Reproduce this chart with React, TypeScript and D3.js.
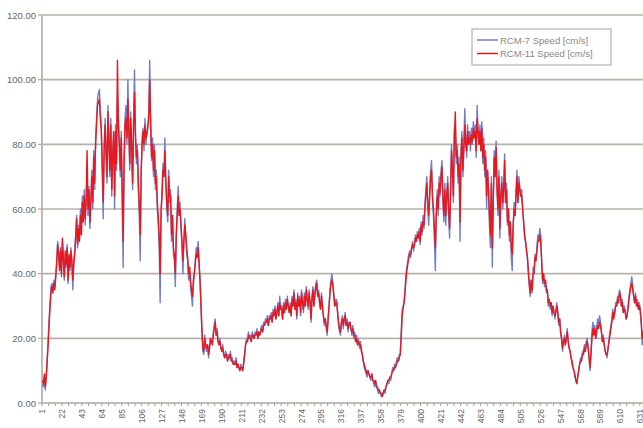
import React, { useEffect, useRef } from "react";
import * as d3 from "d3";

const rcm7: number[] = [
  6,5,8,4,9,14,20,26,31,36,37,35,38,36,40,44,50,47,42,48,
  39,50,44,38,46,42,49,37,45,41,48,43,35,44,47,52,58,48,55,51,
  60,53,64,57,66,55,62,70,58,67,54,63,72,60,78,66,82,88,94,96,
  97,90,85,72,57,80,88,76,68,92,81,70,88,64,78,83,60,86,72,95,
  88,79,70,84,62,42,76,88,92,80,100,86,72,90,78,66,88,103,84,74,
  80,66,58,44,70,82,85,78,88,80,84,86,90,106,88,75,82,70,80,66,
  72,60,55,48,31,58,66,74,70,82,68,60,56,72,62,66,50,58,46,44,
  36,52,60,67,58,62,54,48,40,50,57,52,46,44,38,42,36,33,30,36,
  40,44,48,46,50,44,38,30,22,16,15,21,17,16,18,14,17,20,19,18,
  22,24,26,21,23,19,18,20,17,16,18,15,14,16,15,13,15,14,16,13,
  14,12,13,12,14,11,12,11,10,12,11,10,13,15,18,20,19,22,20,21,
  19,22,21,20,22,21,23,20,22,21,23,24,22,25,24,26,25,27,24,27,
  26,28,25,29,27,30,26,28,31,27,33,29,30,26,31,28,32,29,33,30,
  28,31,27,33,30,35,29,32,26,34,30,33,27,35,31,28,34,30,36,32,
  29,35,31,25,33,36,30,34,37,38,33,35,31,29,34,30,27,24,26,23,
  21,26,30,35,38,40,37,34,30,32,32,28,24,22,21,25,27,23,26,28,
  24,26,22,25,25,23,21,24,20,22,19,21,18,20,17,19,17,15,13,11,
  10,9,8,10,9,8,7,9,7,6,5,7,5,4,3,4,3,2,2,3,
  4,3,5,6,7,6,8,7,9,11,10,12,11,13,14,13,15,15,22,29,
  30,31,35,40,42,44,46,47,45,48,50,47,49,52,50,53,51,54,49,56,
  52,58,54,62,66,70,60,55,65,72,75,62,58,50,41,60,66,58,70,64,
  72,75,62,56,68,55,64,70,58,51,66,80,72,62,85,86,74,80,68,76,
  50,78,84,70,80,91,82,76,86,80,84,78,85,80,87,82,86,76,92,84,
  80,86,78,87,74,82,70,78,60,72,66,55,48,70,42,62,78,70,81,66,
  58,72,51,64,70,60,66,77,62,68,55,60,50,56,45,41,55,62,58,66,
  72,62,70,67,64,66,60,56,52,50,48,45,40,36,33,38,34,42,40,46,
  44,48,52,50,54,52,44,37,40,36,38,34,35,30,32,29,31,27,30,28,
  26,29,31,28,24,26,22,20,16,19,21,18,20,23,19,17,16,14,12,11,
  10,8,7,6,8,10,12,14,13,16,15,18,16,19,20,17,14,10,16,22,
  25,22,24,20,23,26,24,27,25,22,19,21,18,16,15,14,17,20,22,24,
  26,29,27,28,31,30,33,32,35,34,30,32,28,30,29,26,27,30,33,35,
  37,39,36,33,31,34,30,32,29,31,29,24,18,22,20,24,21,25,22,20,
];

const rcm11: number[] = [
  7,6,9,5,8,13,18,24,30,34,36,34,37,35,39,43,49,46,41,47,
  40,51,45,39,47,43,48,38,46,42,47,44,38,43,46,51,57,49,54,50,
  58,52,62,56,64,57,63,78,60,66,56,62,70,62,76,68,80,86,92,93,
  94,88,84,74,62,78,86,78,70,90,80,72,86,66,76,84,64,84,74,106,
  86,80,72,82,66,50,74,86,88,82,94,84,74,88,80,68,86,96,82,76,
  78,68,62,52,72,80,84,80,86,82,83,85,88,100,86,76,80,72,78,68,
  70,62,58,52,40,60,64,72,70,78,68,62,58,70,64,64,52,58,48,46,
  40,52,58,64,58,60,55,50,44,50,55,52,48,45,40,42,38,35,33,38,
  40,43,46,45,48,43,38,31,23,17,16,20,18,17,18,15,17,20,19,18,
  21,23,25,21,22,19,18,19,17,16,17,15,14,15,15,13,14,14,15,13,
  13,12,12,12,13,11,12,11,10,11,11,10,12,15,18,19,19,21,20,20,
  19,21,21,20,21,21,22,20,22,21,22,23,22,24,24,25,25,26,24,26,
  26,27,25,28,27,29,26,28,30,27,31,29,29,26,30,28,31,29,32,30,
  28,30,27,32,30,34,29,31,27,33,30,32,28,34,31,29,33,30,35,32,
  30,34,31,26,32,35,30,33,36,37,33,34,31,29,33,30,27,25,26,24,
  22,26,30,34,37,38,36,33,30,31,31,28,25,23,22,25,26,24,26,27,
  24,25,23,24,25,23,22,23,21,21,19,20,18,19,18,18,16,15,13,12,
  11,10,9,10,9,8,8,9,7,7,6,7,5,5,4,4,3,3,2,3,
  4,4,5,6,7,7,8,8,9,10,10,11,11,12,13,13,14,15,20,27,
  29,31,34,38,41,43,45,46,46,48,49,48,49,51,50,52,51,53,50,55,
  53,56,55,60,64,68,62,58,64,70,72,64,60,54,48,58,64,60,68,65,
  70,73,64,58,66,58,64,68,60,54,64,78,72,64,82,90,76,78,70,74,
  56,76,82,72,78,86,80,78,84,80,82,80,83,81,85,82,84,78,88,84,
  80,84,78,85,76,80,72,76,64,72,66,58,52,68,48,62,76,70,79,66,
  60,70,54,64,68,62,66,75,62,66,56,60,52,56,48,46,55,60,58,64,
  70,62,68,66,64,64,60,56,52,50,47,45,41,37,34,38,35,40,40,45,
  44,47,50,50,52,50,44,38,40,37,38,35,35,31,32,30,31,28,30,28,
  27,28,30,28,25,26,22,20,17,19,20,18,20,22,19,17,16,14,13,11,
  10,9,7,6,8,10,12,13,13,15,15,17,16,18,19,17,14,11,15,20,
  23,21,23,20,22,24,23,25,24,22,19,20,18,16,15,15,17,19,21,23,
  25,28,26,28,30,30,32,31,34,33,30,31,28,29,28,26,27,29,32,34,
  36,37,35,33,31,33,30,31,29,30,28,25,20,22,21,23,22,24,22,21,
];

const yTicks: number[] = [0, 20, 40, 60, 80, 100, 120];
const xTickLabels: string[] = [
  "1","22","43","64","85","106","127","148","169","190","211","232","253","274","295","316",
  "337","358","379","400","421","442","463","484","505","526","547","568","589","610","631",
];
const seriesNames: string[] = ["RCM-7 Speed [cm/s]", "RCM-11 Speed [cm/s]"];
const seriesColors: string[] = ["#6f7fcc", "#e8191e"];

export default function App() {
  const ref = useRef<SVGSVGElement>(null);
  useEffect(() => {
    const svg = d3.select(ref.current);
    svg.selectAll("*").remove();
    const W = 643, H = 428;
    const left = 42, top = 15, bottom = 403;
    const n = rcm7.length;
    const step = 0.949;
    const right = left + (n + 20) * step;
    const y = d3.scaleLinear().domain([0, 120]).range([bottom, top]);
    const x = d3.scaleLinear().domain([0, n + 20]).range([left, right]);
    const font = "Liberation Sans, Arial, sans-serif";

    svg.append("rect").attr("width", W).attr("height", H).attr("fill", "#fff");
    svg.append("defs").append("clipPath").attr("id", "clip")
      .append("rect").attr("x", left).attr("y", 0).attr("width", W - left).attr("height", bottom + 1);

    // gridlines
    svg.append("g").selectAll("line").data(yTicks.filter((t) => t > 0)).join("line")
      .attr("x1", left).attr("x2", W).attr("y1", (d) => y(d)).attr("y2", (d) => y(d))
      .attr("stroke", "#bab2aa").attr("stroke-width", 1.6);

    // y axis
    svg.append("line").attr("x1", left).attr("x2", left).attr("y1", top).attr("y2", bottom)
      .attr("stroke", "#b0a8a0").attr("stroke-width", 1.6);
    svg.append("g").selectAll("line").data(yTicks).join("line")
      .attr("x1", left - 4).attr("x2", left).attr("y1", (d) => y(d)).attr("y2", (d) => y(d))
      .attr("stroke", "#b0a8a0").attr("stroke-width", 1.2);
    svg.append("g").selectAll("text").data(yTicks).join("text")
      .attr("x", left - 6).attr("y", (d) => y(d) + 3.5)
      .attr("text-anchor", "end").attr("font-family", font).attr("font-size", 9.5)
      .attr("fill", "#666").text((d) => d3.format(".2f")(d));

    // x axis
    svg.append("line").attr("x1", left).attr("x2", W).attr("y1", bottom).attr("y2", bottom)
      .attr("stroke", "#b0a8a0").attr("stroke-width", 1.6);
    const tickIdx = d3.range(0, n + 21, 7);
    svg.append("g").selectAll("line").data(tickIdx).join("line")
      .attr("x1", (d) => x(d)).attr("x2", (d) => x(d))
      .attr("y1", bottom).attr("y2", bottom + 3)
      .attr("stroke", "#a8a098").attr("stroke-width", 1);
    svg.append("g").selectAll("text").data(xTickLabels).join("text")
      .attr("transform", (d) => `translate(${x(+d - 0.5) + 3},${bottom + 6}) rotate(-90)`)
      .attr("text-anchor", "end").attr("font-family", font).attr("font-size", 8.5)
      .attr("fill", "#666").text((d) => d);

    // lines
    const g = svg.append("g").attr("clip-path", "url(#clip)");
    const line = d3.line<number>().x((_, i) => x(i + 0.5)).y((d) => y(d));
    [rcm7, rcm11].forEach((s, k) => {
      g.append("path").datum(s).attr("d", line).attr("fill", "none")
        .attr("stroke", seriesColors[k]).attr("stroke-width", 1.4)
        .attr("stroke-linejoin", "round");
    });

    // legend
    const lg = svg.append("g");
    lg.append("rect").attr("x", 472).attr("y", 29).attr("width", 139).attr("height", 36)
      .attr("fill", "#fff").attr("stroke", "#c4bcb4").attr("stroke-width", 1.4);
    seriesNames.forEach((name, k) => {
      const yy = 40 + k * 13.5;
      lg.append("line").attr("x1", 477).attr("x2", 498).attr("y1", yy).attr("y2", yy)
        .attr("stroke", seriesColors[k]).attr("stroke-width", 1.5);
      lg.append("text").attr("x", 500).attr("y", yy + 3.5).attr("font-family", font)
        .attr("font-size", 9.5).attr("fill", "#888").text(name);
    });
  }, []);
  return (
    <svg ref={ref} width={643} height={428}
      style={{ position: "absolute", left: 0, top: 0, display: "block" }} />
  );
}
